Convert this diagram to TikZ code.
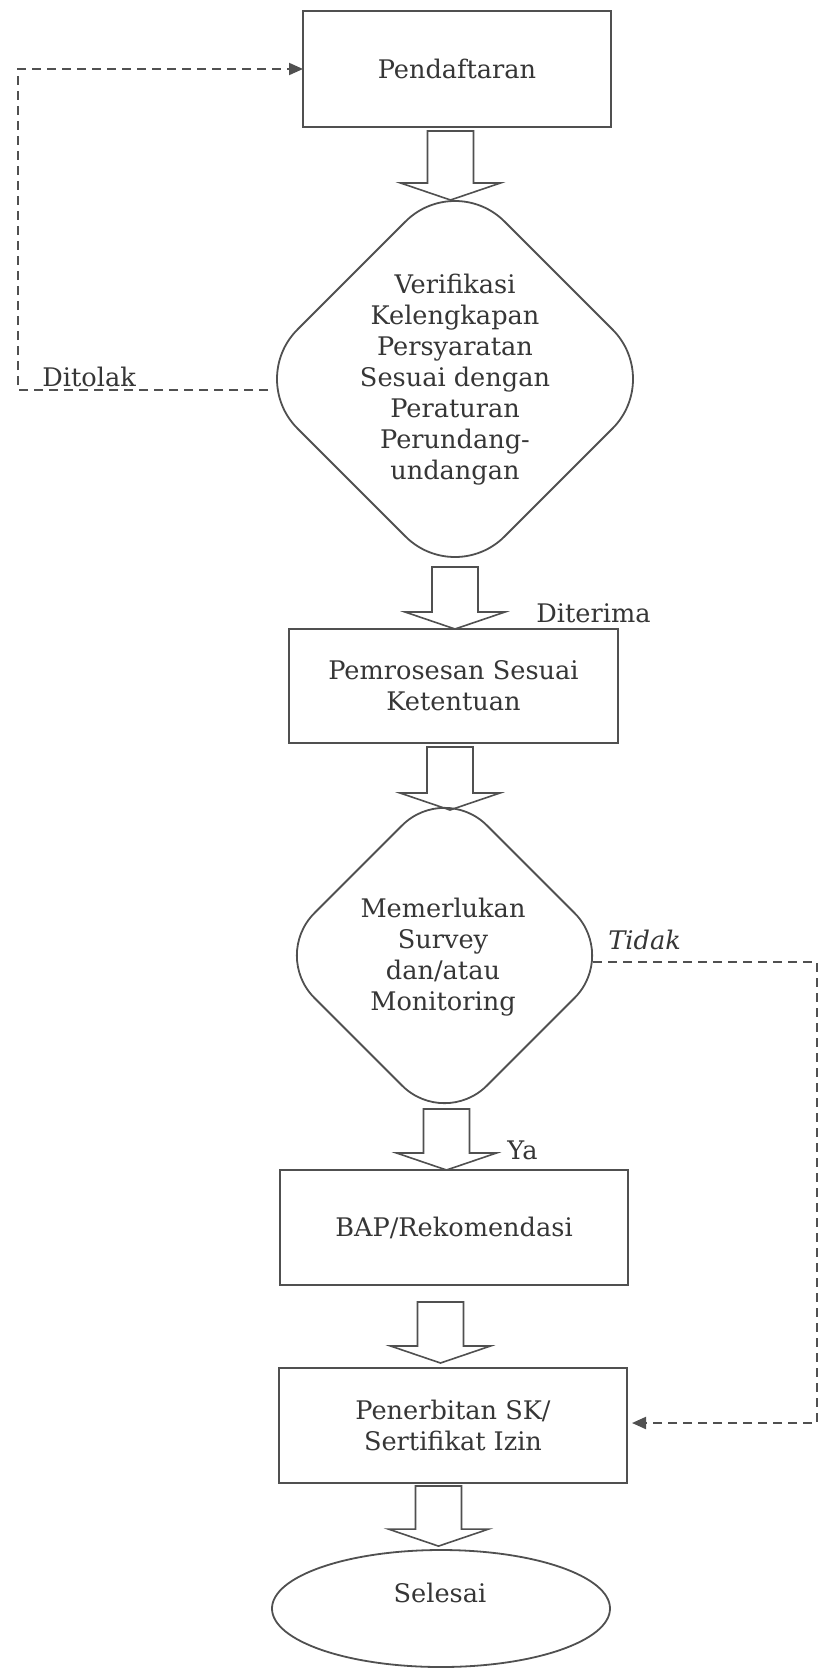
\documentclass[tikz,border=0pt]{standalone}
\usepackage{fontspec}
\setmainfont{DejaVu Serif}
\usetikzlibrary{shapes.geometric,calc,arrows.meta}
\definecolor{ln}{HTML}{505050}
\definecolor{tx}{HTML}{363636}
\newcommand\barrow[2]{\draw[barr] let \p1=#1, \p2=#2 in
  (\x2-11.5pt,\y1) -- (\x2-11.5pt,\y2+8.5pt) -- (\x2-25pt,\y2+8.5pt) -- (\x2,\y2)
  -- (\x2+25pt,\y2+8.5pt) -- (\x2+11.5pt,\y2+8.5pt) -- (\x2+11.5pt,\y1) -- cycle;}
\begin{document}
\begin{tikzpicture}[x=0.5pt,y=-0.5pt,
  font=\fontsize{12.8}{15.5}\selectfont, text=tx,
  box/.style={draw=ln, line width=1.1pt, rectangle, inner sep=0pt, outer sep=0pt, align=center},
  dia/.style={draw=ln, line width=0.9pt, diamond, inner sep=0pt, outer sep=0pt},
  txt/.style={align=center, inner sep=0pt},
  lbl/.style={anchor=west, inner sep=0pt},
  dashline/.style={draw=ln, line width=1pt, dash pattern=on 4.5pt off 3pt},
  tip/.style={-{Triangle[length=7pt,width=6pt]}},
  barr/.style={draw=ln, line width=0.8pt}]
\fill[white] (0,0) rectangle (824,1669);
\useasboundingbox (0,0) rectangle (824,1669);

% nodes
\node[box, minimum width=154pt, minimum height=58pt] (p1) at (457,69) {Pendaftaran};
\node[dia, minimum width=207pt, minimum height=207pt, rounded corners=35pt] (d1) at (455,379) {};
\node[txt] (t1) at (455,380) {Verifikasi\\Kelengkapan\\Persyaratan\\Sesuai dengan\\Peraturan\\Perundang-\\undangan};
\node[lbl] (lt) at (42,377) {Ditolak};
\node[box, minimum width=164.5pt, minimum height=57pt] (p2) at (453.5,686) {Pemrosesan Sesuai\\Ketentuan};
\node[lbl] (lr) at (536,613) {Diterima};
\node[dia, minimum width=172.5pt, minimum height=172.5pt, rounded corners=30pt] (d2) at (444.5,955.5) {};
\node[txt] (t2) at (443,957) {Memerlukan\\Survey\\dan/atau\\Monitoring};
\node[lbl] (lk) at (608,940) {\itshape Tidak};
\node[lbl] (ly) at (507,1150) {Ya};
\node[box, minimum width=174pt, minimum height=57.5pt] (p3) at (454,1227.5) {BAP/Rekomendasi};
\node[box, minimum width=174pt, minimum height=57.5pt] (p4) at (453,1425.5) {Penerbitan SK/\\Sertifikat Izin};
\node[draw=ln, line width=0.9pt, ellipse, minimum width=169pt, minimum height=58.5pt, inner sep=0pt] (e) at (441,1608.5) {};
\node[txt] (te) at (440,1593) {Selesai};

% block arrows
\barrow{($(p1.south)+(-6.5,4)$)}{($(d1.north)+(-4.5,28)$)}
\barrow{($(d1.south)+(0,-19)$)}{($(p2.north)+(1.5,0)$)}
\barrow{($(p2.south)+(0,4)$)}{($(d2.north)+(5.5,27)$)}
\barrow{($(d2.south)+(0,-19)$)}{($(p3.north)+(-7.5,0)$)}
\barrow{($(p3.south)+(0,17)$)}{($(p4.north)+(-12.5,-5)$)}
\barrow{($(p4.south)+(0,3)$)}{($(e.north)+(-2.5,-3)$)}

% dashed connectors
\coordinate (cl) at (18,390);
\draw[dashline, tip] ($(d1.west)+(20,11)$) -- (cl) |- (p1.west);
\coordinate (cr) at (817,962);
\draw[dashline, tip] ($(d2.east)+(-24,6.5)$) -- (cr) |- ($(p4.east)+(5,-2.5)$);
\end{tikzpicture}
\end{document}
